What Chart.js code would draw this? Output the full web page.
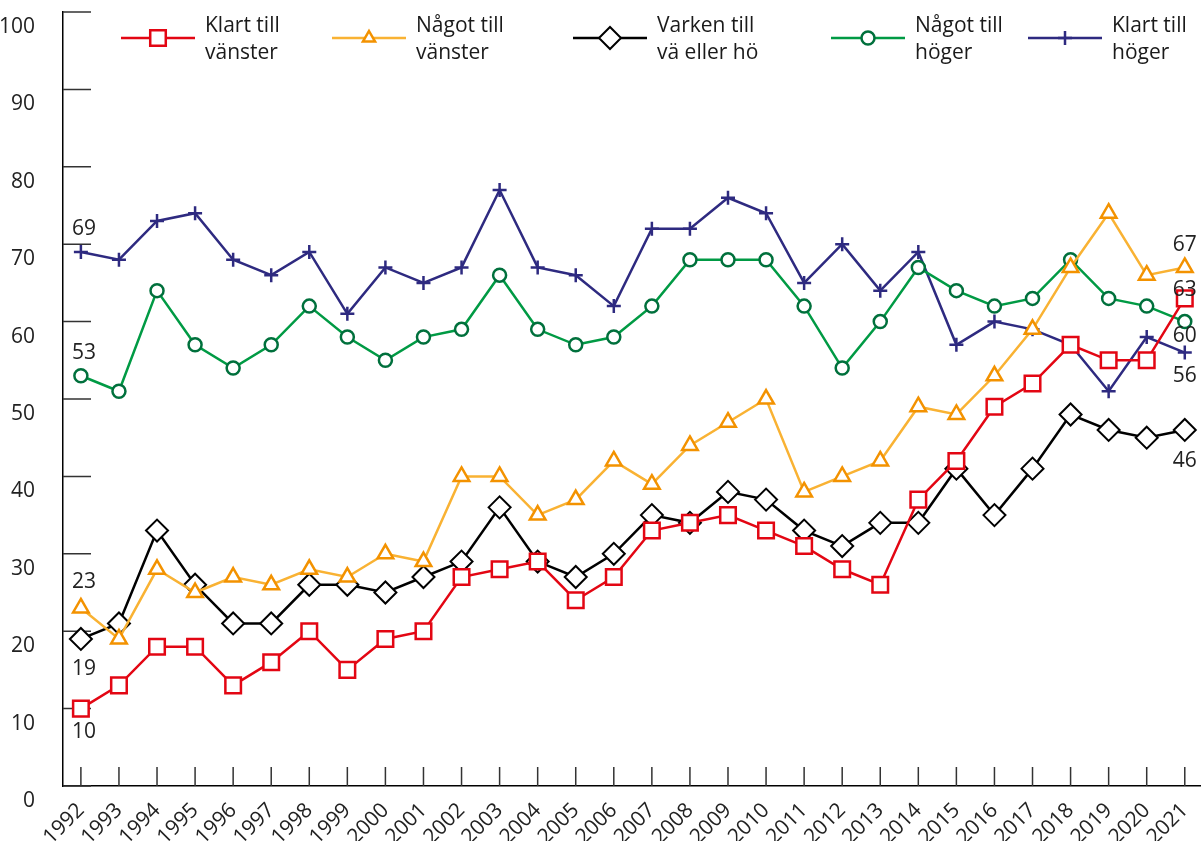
<!DOCTYPE html>
<html>
<head>
  <meta charset="utf-8">
  <title>Vänster eller höger 1992-2021</title>
  <script src="https://cdn.jsdelivr.net/npm/chart.js"></script>
  <style>
    html, body {
      margin: 0;
      padding: 0;
      background: #fff;
      overflow: hidden;
    }

    #chart-container {
      width: 1201px;
      height: 841px;
    }

    canvas {
      display: block;
    }
  </style>
</head>
<body>

  <div id="chart-container">
    <canvas id="myChart"></canvas>
  </div>

  <script>
    const years = [1992, 1993, 1994, 1995, 1996, 1997, 1998, 1999, 2000, 2001,
                   2002, 2003, 2004, 2005, 2006, 2007, 2008, 2009, 2010, 2011,
                   2012, 2013, 2014, 2015, 2016, 2017, 2018, 2019, 2020, 2021];
    const yTicks = [0, 10, 20, 30, 40, 50, 60, 70, 80, 90, 100];

    const klartVanster = [10, 13, 18, 18, 13, 16, 20, 15, 19, 20, 27, 28, 29, 24, 27, 33, 34, 35, 33, 31, 28, 26, 37, 42, 49, 52, 57, 55, 55, 63];
    const nagotVanster = [23, 19, 28, 25, 27, 26, 28, 27, 30, 29, 40, 40, 35, 37, 42, 39, 44, 47, 50, 38, 40, 42, 49, 48, 53, 59, 67, 74, 66, 67];
    const varken       = [19, 21, 33, 26, 21, 21, 26, 26, 25, 27, 29, 36, 29, 27, 30, 35, 34, 38, 37, 33, 31, 34, 34, 41, 35, 41, 48, 46, 45, 46];
    const nagotHoger   = [53, 51, 64, 57, 54, 57, 62, 58, 55, 58, 59, 66, 59, 57, 58, 62, 68, 68, 68, 62, 54, 60, 67, 64, 62, 63, 68, 63, 62, 60];
    const klartHoger   = [69, 68, 73, 74, 68, 66, 69, 61, 67, 65, 67, 77, 67, 66, 62, 72, 72, 76, 74, 65, 70, 64, 69, 57, 60, 59, 57, 51, 58, 56];

    const seriesLabels = [
      ['Klart till', 'vänster'],
      ['Något till', 'vänster'],
      ['Varken till', 'vä eller hö'],
      ['Något till', 'höger'],
      ['Klart till', 'höger']
    ];

    const FONT = "'Open Sans', 'Noto Sans', sans-serif";
    Chart.defaults.font.family = FONT;
    Chart.defaults.font.size = 21;
    Chart.defaults.color = '#222';

    const toPoints = arr => arr.map((v, i) => ({ x: years[i], y: v }));

    // små streck innanför axlarna
    const tickMarks = {
      id: 'tickMarks',
      beforeDatasetsDraw(chart) {
        const { ctx, scales: { x, y } } = chart;
        ctx.save();
        ctx.strokeStyle = '#333';
        ctx.lineWidth = 1.5;
        ctx.beginPath();
        yTicks.forEach(v => {
          const py = y.getPixelForValue(v);
          ctx.moveTo(x.left, py);
          ctx.lineTo(x.left + 28, py);
        });
        years.forEach(v => {
          const px = x.getPixelForValue(v);
          ctx.moveTo(px, y.bottom);
          ctx.lineTo(px, y.bottom - 19);
        });
        ctx.stroke();
        ctx.restore();
      }
    };

    // första och sista värdet i varje serie
    const endLabels = {
      id: 'endLabels',
      afterDatasetsDraw(chart) {
        const { ctx } = chart;
        ctx.save();
        ctx.font = '21px ' + FONT;
        ctx.fillStyle = '#222';
        ctx.textAlign = 'center';
        ctx.textBaseline = 'middle';
        chart.data.datasets.forEach((ds, i) => {
          const pts = chart.getDatasetMeta(i).data;
          const first = pts[0], last = pts[pts.length - 1];
          ctx.fillText(ds.data[0].y, first.x + 3, first.y + ds.labelDy[0]);
          ctx.fillText(ds.data[ds.data.length - 1].y, last.x, last.y + ds.labelDy[1]);
        });
        ctx.restore();
      }
    };

    // legend med två rader text
    const legendStart = [121, 332, 573, 831, 1028];
    const customLegend = {
      id: 'customLegend',
      afterDraw(chart) {
        const { ctx } = chart;
        const ly = 38;
        ctx.save();
        chart.data.datasets.forEach((ds, i) => {
          const x0 = legendStart[i];
          const x1 = x0 + 74;
          ctx.strokeStyle = ds.borderColor;
          ctx.lineWidth = ds.borderWidth;
          ctx.beginPath();
          ctx.moveTo(x0, ly);
          ctx.lineTo(x1, ly);
          ctx.stroke();

          ctx.strokeStyle = ds.pointBorderColor;
          ctx.fillStyle = ds.pointBackgroundColor;
          ctx.lineWidth = ds.pointBorderWidth;
          Chart.helpers.drawPoint(ctx, {
            pointStyle: ds.pointStyle,
            radius: ds.legendRadius,
            borderWidth: ds.pointBorderWidth,
            rotation: 0
          }, (x0 + x1) / 2, ly);

          ctx.fillStyle = '#1a1a1a';
          ctx.font = '21px ' + FONT;
          ctx.textAlign = 'left';
          ctx.textBaseline = 'alphabetic';
          ctx.fillText(seriesLabels[i][0], x1 + 10, 32);
          ctx.fillText(seriesLabels[i][1], x1 + 10, 59);
        });
        ctx.restore();
      }
    };

    const ctx = document.getElementById('myChart').getContext('2d');
    const chart = new Chart(ctx, {
      type: 'line',
      data: {
        datasets: [{
          label: seriesLabels[0].join(' '),
          data: toPoints(klartVanster),
          borderColor: '#E30613',
          borderWidth: 2.5,
          pointStyle: 'rect',
          pointRadius: 11,
          legendRadius: 11,
          pointBorderColor: '#E30613',
          pointBackgroundColor: '#fff',
          pointBorderWidth: 2.5,
          labelDy: [23, -8]
        }, {
          label: seriesLabels[1].join(' '),
          data: toPoints(nagotVanster),
          borderColor: '#F9B233',
          borderWidth: 2.5,
          pointStyle: 'triangle',
          pointRadius: 9,
          legendRadius: 7,
          pointBorderColor: '#F39200',
          pointBackgroundColor: '#fff',
          pointBorderWidth: 2.5,
          labelDy: [-26, -22]
        }, {
          label: seriesLabels[2].join(' '),
          data: toPoints(varken),
          borderColor: '#000',
          borderWidth: 2.5,
          pointStyle: 'rectRot',
          pointRadius: 11,
          legendRadius: 11,
          pointBorderColor: '#000',
          pointBackgroundColor: '#fff',
          pointBorderWidth: 2,
          labelDy: [30, 31]
        }, {
          label: seriesLabels[3].join(' '),
          data: toPoints(nagotHoger),
          borderColor: '#009A44',
          borderWidth: 2.5,
          pointStyle: 'circle',
          pointRadius: 6.5,
          legendRadius: 6.5,
          pointBorderColor: '#00703C',
          pointBackgroundColor: '#fff',
          pointBorderWidth: 2.5,
          labelDy: [-23, 14]
        }, {
          label: seriesLabels[4].join(' '),
          data: toPoints(klartHoger),
          borderColor: '#2E2A80',
          borderWidth: 2.5,
          pointStyle: 'cross',
          pointRadius: 7,
          legendRadius: 7,
          pointBorderColor: '#2E2A80',
          pointBackgroundColor: '#2E2A80',
          pointBorderWidth: 2.5,
          labelDy: [-23, 23]
        }]
      },
      options: {
        responsive: true,
        maintainAspectRatio: false,
        animation: false,
        clip: false,
        layout: {
          autoPadding: false,
          padding: { top: 12, right: 1, left: 0, bottom: 0 }
        },
        plugins: {
          legend: { display: false },
          tooltip: { enabled: false }
        },
        elements: {
          line: { tension: 0 }
        },
        scales: {
          x: {
            type: 'linear',
            min: 1991.53,
            max: 2021.4,
            grid: { display: false },
            border: { display: true, color: '#000', width: 1.5 },
            afterBuildTicks: scale => { scale.ticks = years.map(v => ({ value: v })); },
            afterFit: scale => {
              scale.height = 55;
              scale.paddingLeft = 0;
              scale.paddingRight = 0;
            },
            ticks: {
              autoSkip: false,
              maxRotation: 45,
              minRotation: 45,
              padding: 4,
              color: '#222',
              callback: v => String(v)
            }
          },
          y: {
            min: 0,
            max: 100,
            grid: { display: false },
            border: { display: true, color: '#000', width: 1.5 },
            afterBuildTicks: scale => { scale.ticks = yTicks.map(v => ({ value: v })); },
            afterFit: scale => {
              scale.width = 63;
              scale.paddingTop = 0;
              scale.paddingBottom = 0;
            },
            ticks: {
              padding: 20,
              labelOffset: 15,
              color: '#222'
            }
          }
        }
      },
      plugins: [tickMarks, endLabels, customLegend]
    });
  </script>

</body>
</html>
